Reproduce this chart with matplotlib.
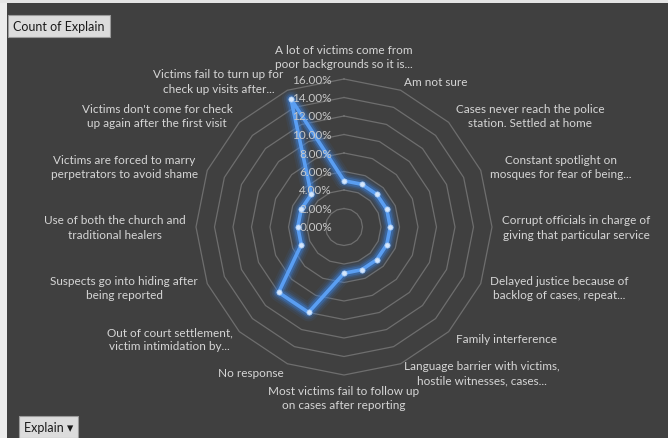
import matplotlib.pyplot as plt
import numpy as np
from matplotlib.patches import Rectangle

plt.rcParams['font.family'] = ['Lato', 'DejaVu Sans']

# pivot: Count of Explain, shown as share of total
categories = [
    "A lot of victims come from\npoor backgrounds so it is...",
    "Am not sure",
    "Cases never reach the police\nstation. Settled at home",
    "Constant spotlight on\nmosques for fear of being...",
    "Corrupt officials in charge of\ngiving that particular service",
    "Delayed justice because of\nbacklog of cases, repeat...",
    "Family interference",
    "Language barrier with victims,\nhostile witnesses, cases...",
    "Most victims fail to follow up\non cases after reporting",
    "No response",
    "Out of court settlement,\nvictim intimidation by...",
    "Suspects go into hiding after\nbeing reported",
    "Use of both the church and\ntraditional healers",
    "Victims are forced to marry\nperpetrators to avoid shame",
    "Victims don't come for check\nup again after the first visit",
    "Victims fail to turn up for\ncheck up visits after...",
]
share = [0.05, 0.05, 0.05, 0.05, 0.05, 0.05, 0.05, 0.05,
         0.05, 0.10, 0.10, 0.05, 0.05, 0.05, 0.05, 0.15]
ticks = [0.0, 0.02, 0.04, 0.06, 0.08, 0.10, 0.12, 0.14, 0.16]

bg = '#404040'
txt = '#d6d6d6'

W, H = 668, 439
fig = plt.figure(figsize=(W / 100, H / 100), dpi=100, facecolor=bg)

# light frame on the left and top edge
fig.patches.append(Rectangle((0, 0), 7 / W, 1, transform=fig.transFigure,
                             fc='#ececec', ec='none', zorder=0))
fig.patches.append(Rectangle((0, 1 - 4 / H), 1, 4 / H, transform=fig.transFigure,
                             fc='#e4e4e4', ec='none', zorder=0))

cx, cy, R = 344, 228, 148
ax = fig.add_axes([(cx - R) / W, (H - cy - R) / H, 2 * R / W, 2 * R / H],
                  projection='polar')
ax.set_theta_zero_location('N')
ax.set_theta_direction(-1)
ax.set_ylim(0, ticks[-1])
ax.axis('off')

n = len(categories)
theta = np.linspace(0, 2 * np.pi, n, endpoint=False)
theta_c = np.append(theta, theta[0])

# polygon gridlines
for t in ticks[1:]:
    ax.plot(theta_c, [t] * (n + 1), color='#6e6e6e', lw=0.9, zorder=1, clip_on=False)

# value axis labels up the first spoke
for t in ticks:
    ax.annotate(f"{t:.2%}", xy=(0, t), xytext=(-12, 0), textcoords='offset pixels',
                ha='right', va='center', fontsize=8.5, color='#c8c8c8', zorder=5)

vals = np.append(share, share[0])
# soft glow under the series line
for lw, a in [(13, 0.08), (10, 0.12), (7.5, 0.2), (5.5, 0.35)]:
    ax.plot(theta_c, vals, color='#3a84e6', lw=lw, alpha=a, solid_joinstyle='round',
            solid_capstyle='round', zorder=3, clip_on=False)
ax.plot(theta_c, vals, color='#5a9ef2', lw=2.6, zorder=4, clip_on=False,
        solid_joinstyle='round')
ax.plot(theta, share, 'o', ms=3.8, color='#d4e6fc', mec='#9cc3f2', mew=0.5,
        zorder=5, clip_on=False)

# category labels around the outside
r_lab = ticks[-1] * 158 / 148
for th, lab in zip(theta, categories):
    s, c = np.sin(th), np.cos(th)
    ha = 'left' if s > 0.1 else ('right' if s < -0.1 else 'center')
    va = 'center'
    if abs(s) <= 0.1:
        va = 'bottom' if c > 0 else 'top'
    ax.text(th, r_lab, lab, ha=ha, va=va, multialignment='center',
            fontsize=8.5, color=txt, linespacing=1.35, zorder=6)

# pivot field buttons
fig.text(13 / W, 1 - 27 / H, "Count of Explain", fontsize=9, color='#1a1a1a',
         ha='left', va='center',
         bbox=dict(boxstyle='square,pad=0.4', fc='#dcdcdc', ec='#9a9a9a', lw=0.8))
fig.text(24 / W, 1 - 428 / H, "Explain \u25be", fontsize=9, color='#1a1a1a',
         ha='left', va='center',
         bbox=dict(boxstyle='square,pad=0.4', fc='#dcdcdc', ec='#9a9a9a', lw=0.8))

fig.savefig('out.png', dpi=100, facecolor=bg)
